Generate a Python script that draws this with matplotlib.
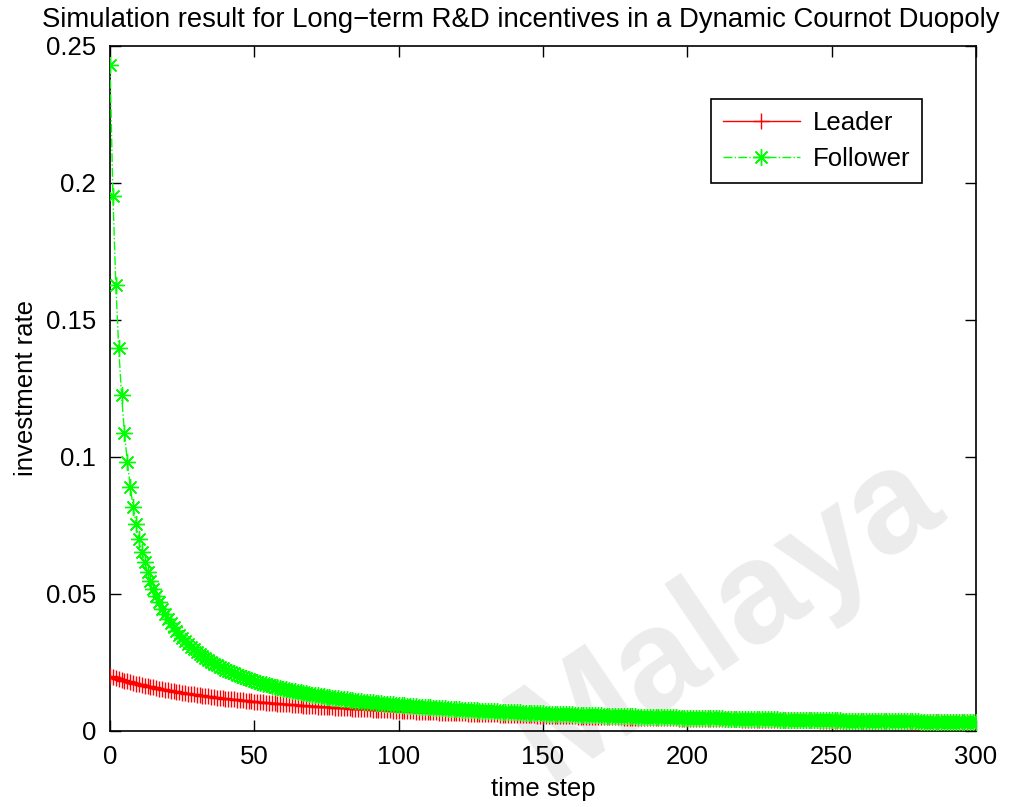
import matplotlib
matplotlib.use("Agg")
import matplotlib.pyplot as plt
import numpy as np

plt.rcParams['font.family'] = ['Liberation Sans', 'DejaVu Sans']

# investment rate per time step (t = 0 .. 300)
time_step = np.arange(301)

leader = [
    0.02000, 0.01966, 0.01933, 0.01902, 0.01871, 0.01841, 0.01813, 0.01785, 0.01758, 0.01731,
    0.01706, 0.01681, 0.01657, 0.01634, 0.01611, 0.01589, 0.01568, 0.01547, 0.01526, 0.01507,
    0.01487, 0.01468, 0.01450, 0.01432, 0.01415, 0.01398, 0.01381, 0.01365, 0.01349, 0.01333,
    0.01318, 0.01303, 0.01289, 0.01275, 0.01261, 0.01247, 0.01234, 0.01221, 0.01208, 0.01196,
    0.01184, 0.01172, 0.01160, 0.01149, 0.01137, 0.01126, 0.01115, 0.01105, 0.01094, 0.01084,
    0.01074, 0.01064, 0.01055, 0.01045, 0.01036, 0.01027, 0.01018, 0.01009, 0.01000, 0.00991,
    0.00983, 0.00975, 0.00967, 0.00959, 0.00951, 0.00943, 0.00935, 0.00928, 0.00921, 0.00913,
    0.00906, 0.00899, 0.00892, 0.00885, 0.00879, 0.00872, 0.00866, 0.00859, 0.00853, 0.00847,
    0.00841, 0.00835, 0.00829, 0.00823, 0.00817, 0.00811, 0.00806, 0.00800, 0.00795, 0.00789,
    0.00784, 0.00779, 0.00773, 0.00768, 0.00763, 0.00758, 0.00753, 0.00748, 0.00744, 0.00739,
    0.00734, 0.00730, 0.00725, 0.00720, 0.00716, 0.00712, 0.00707, 0.00703, 0.00699, 0.00695,
    0.00690, 0.00686, 0.00682, 0.00678, 0.00674, 0.00671, 0.00667, 0.00663, 0.00659, 0.00655,
    0.00652, 0.00648, 0.00644, 0.00641, 0.00637, 0.00634, 0.00630, 0.00627, 0.00624, 0.00620,
    0.00617, 0.00614, 0.00611, 0.00607, 0.00604, 0.00601, 0.00598, 0.00595, 0.00592, 0.00589,
    0.00586, 0.00583, 0.00580, 0.00577, 0.00574, 0.00571, 0.00569, 0.00566, 0.00563, 0.00560,
    0.00558, 0.00555, 0.00552, 0.00550, 0.00547, 0.00545, 0.00542, 0.00540, 0.00537, 0.00535,
    0.00532, 0.00530, 0.00527, 0.00525, 0.00523, 0.00520, 0.00518, 0.00516, 0.00513, 0.00511,
    0.00509, 0.00507, 0.00504, 0.00502, 0.00500, 0.00498, 0.00496, 0.00494, 0.00492, 0.00489,
    0.00487, 0.00485, 0.00483, 0.00481, 0.00479, 0.00477, 0.00475, 0.00473, 0.00472, 0.00470,
    0.00468, 0.00466, 0.00464, 0.00462, 0.00460, 0.00458, 0.00457, 0.00455, 0.00453, 0.00451,
    0.00450, 0.00448, 0.00446, 0.00444, 0.00443, 0.00441, 0.00439, 0.00438, 0.00436, 0.00434,
    0.00433, 0.00431, 0.00430, 0.00428, 0.00426, 0.00425, 0.00423, 0.00422, 0.00420, 0.00419,
    0.00417, 0.00416, 0.00414, 0.00413, 0.00411, 0.00410, 0.00408, 0.00407, 0.00406, 0.00404,
    0.00403, 0.00401, 0.00400, 0.00399, 0.00397, 0.00396, 0.00395, 0.00393, 0.00392, 0.00391,
    0.00389, 0.00388, 0.00387, 0.00385, 0.00384, 0.00383, 0.00382, 0.00380, 0.00379, 0.00378,
    0.00377, 0.00375, 0.00374, 0.00373, 0.00372, 0.00371, 0.00369, 0.00368, 0.00367, 0.00366,
    0.00365, 0.00364, 0.00363, 0.00361, 0.00360, 0.00359, 0.00358, 0.00357, 0.00356, 0.00355,
    0.00354, 0.00353, 0.00352, 0.00350, 0.00349, 0.00348, 0.00347, 0.00346, 0.00345, 0.00344,
    0.00343, 0.00342, 0.00341, 0.00340, 0.00339, 0.00338, 0.00337, 0.00336, 0.00335, 0.00334,
    0.00333, 0.00332, 0.00331, 0.00330, 0.00330, 0.00329, 0.00328, 0.00327, 0.00326, 0.00325,
    0.00324,
]

follower = [
    0.2431, 0.1951, 0.1629, 0.1398, 0.1225, 0.1089, 0.0981, 0.0892, 0.0818, 0.0756,
    0.0702, 0.0655, 0.0615, 0.0579, 0.0547, 0.0518, 0.0492, 0.0469, 0.0447, 0.0428,
    0.0410, 0.0394, 0.0379, 0.0365, 0.0352, 0.0340, 0.0328, 0.0318, 0.0308, 0.0299,
    0.0290, 0.0282, 0.0274, 0.0266, 0.0259, 0.0253, 0.0246, 0.0240, 0.0235, 0.0229,
    0.0224, 0.0219, 0.0214, 0.0210, 0.0205, 0.0201, 0.0197, 0.0193, 0.0190, 0.0186,
    0.0183, 0.0179, 0.0176, 0.0173, 0.0170, 0.0167, 0.0164, 0.0162, 0.0159, 0.0157,
    0.0154, 0.0152, 0.0149, 0.0147, 0.0145, 0.0143, 0.0141, 0.0139, 0.0137, 0.0135,
    0.0133, 0.0131, 0.0130, 0.0128, 0.0126, 0.0125, 0.0123, 0.0122, 0.0120, 0.0119,
    0.0117, 0.0116, 0.0115, 0.0113, 0.0112, 0.0111, 0.0110, 0.0108, 0.0107, 0.0106,
    0.0105, 0.0104, 0.0103, 0.0102, 0.0101, 0.0100, 0.00986, 0.00977, 0.00967, 0.00958,
    0.00948, 0.00939, 0.00931, 0.00922, 0.00913, 0.00905, 0.00897, 0.00889, 0.00881, 0.00873,
    0.00865, 0.00858, 0.00850, 0.00843, 0.00836, 0.00829, 0.00822, 0.00815, 0.00809, 0.00802,
    0.00796, 0.00789, 0.00783, 0.00777, 0.00771, 0.00765, 0.00759, 0.00753, 0.00747, 0.00742,
    0.00736, 0.00731, 0.00725, 0.00720, 0.00715, 0.00710, 0.00705, 0.00700, 0.00695, 0.00690,
    0.00685, 0.00680, 0.00676, 0.00671, 0.00667, 0.00662, 0.00658, 0.00653, 0.00649, 0.00645,
    0.00641, 0.00637, 0.00632, 0.00628, 0.00625, 0.00621, 0.00617, 0.00613, 0.00609, 0.00605,
    0.00602, 0.00598, 0.00594, 0.00591, 0.00587, 0.00584, 0.00580, 0.00577, 0.00574, 0.00570,
    0.00567, 0.00564, 0.00561, 0.00558, 0.00554, 0.00551, 0.00548, 0.00545, 0.00542, 0.00539,
    0.00536, 0.00533, 0.00530, 0.00528, 0.00525, 0.00522, 0.00519, 0.00517, 0.00514, 0.00511,
    0.00509, 0.00506, 0.00503, 0.00501, 0.00498, 0.00496, 0.00493, 0.00491, 0.00489, 0.00486,
    0.00484, 0.00481, 0.00479, 0.00477, 0.00474, 0.00472, 0.00470, 0.00468, 0.00465, 0.00463,
    0.00461, 0.00459, 0.00457, 0.00455, 0.00453, 0.00451, 0.00449, 0.00446, 0.00444, 0.00442,
    0.00440, 0.00439, 0.00437, 0.00435, 0.00433, 0.00431, 0.00429, 0.00427, 0.00425, 0.00424,
    0.00422, 0.00420, 0.00418, 0.00416, 0.00415, 0.00413, 0.00411, 0.00409, 0.00408, 0.00406,
    0.00404, 0.00403, 0.00401, 0.00400, 0.00398, 0.00396, 0.00395, 0.00393, 0.00392, 0.00390,
    0.00388, 0.00387, 0.00385, 0.00384, 0.00382, 0.00381, 0.00380, 0.00378, 0.00377, 0.00375,
    0.00374, 0.00372, 0.00371, 0.00370, 0.00368, 0.00367, 0.00365, 0.00364, 0.00363, 0.00361,
    0.00360, 0.00359, 0.00358, 0.00356, 0.00355, 0.00354, 0.00352, 0.00351, 0.00350, 0.00349,
    0.00348, 0.00346, 0.00345, 0.00344, 0.00343, 0.00342, 0.00340, 0.00339, 0.00338, 0.00337,
    0.00336, 0.00335, 0.00333, 0.00332, 0.00331, 0.00330, 0.00329, 0.00328, 0.00327, 0.00326,
    0.00325,
]

x_ticks = [0, 50, 100, 150, 200, 250, 300]
y_ticks = [0, 0.05, 0.1, 0.15, 0.2, 0.25]
y_tick_labels = ['0', '0.05', '0.1', '0.15', '0.2', '0.25']

fig = plt.figure(figsize=(10.16, 8.07), dpi=100)
ax = fig.add_axes([0.1083, 0.0942, 0.8523, 0.8488])

# faint watermark behind the curves
ax.text(0.715, 0.235, 'Malaya', transform=fig.transFigure, rotation=34,
        fontsize=104, fontweight='bold', color='#ececec',
        ha='center', va='center', zorder=0, clip_on=False)

ax.plot(time_step, leader, color='red', linestyle='-', linewidth=1.0,
        marker='+', markersize=12, markeredgewidth=1.0, label='Leader', zorder=3)
ax.plot(time_step, follower, color=(0, 1, 0), linestyle='-.', linewidth=1.0,
        marker=(8, 2, 0), markersize=12, markeredgewidth=1.0, label='Follower', zorder=4)

ax.set_xlim(0, 300)
ax.set_ylim(0, 0.25)
ax.set_xticks(x_ticks)
ax.set_yticks(y_ticks)
ax.set_yticklabels(y_tick_labels)
ax.tick_params(direction='in', length=8, width=1, top=True, right=True,
               labelsize=18.5, pad=10)
for s in ax.spines.values():
    s.set_linewidth(1.2)

ax.set_xlabel('time step', fontsize=18.5, labelpad=6)
ax.set_ylabel('investment rate', fontsize=18.5, labelpad=6)
fig.text(0.513, 0.975, 'Simulation result for Long\u2212term R&D incentives in a Dynamic Cournot Duopoly',
         fontsize=19.8, ha='center', va='center')

leg = ax.legend(loc='upper right', bbox_to_anchor=(0.9376, 0.9226), borderaxespad=0,
                fontsize=18.5, handlelength=3.0, handletextpad=0.5, fancybox=False,
                framealpha=1, edgecolor='black', labelspacing=0.5, borderpad=0.45)
leg.get_frame().set_linewidth(1.2)

fig.savefig('out.png', dpi=100)
